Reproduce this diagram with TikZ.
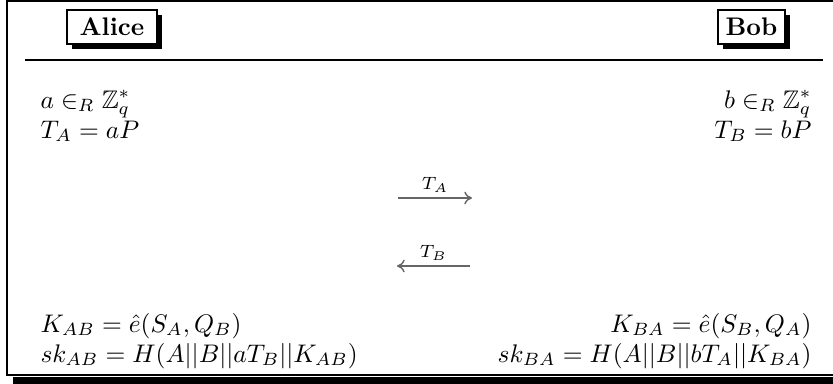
\documentclass[tikz,border=0pt]{standalone}
\usepackage{amsmath,amssymb}
\usetikzlibrary{shadows,arrows.meta}
\begin{document}
\begin{tikzpicture}[x=0.393pt,y=-0.393pt,
  party/.style={draw, fill=white, line width=0.5pt, inner sep=0pt, font=\bfseries,
    drop shadow={shadow xshift=2pt, shadow yshift=-2pt, fill=black, opacity=1}},
  txt/.style={inner sep=0pt},
  msg/.style={black!60, line width=0.55pt, -{To[length=3pt,width=5pt]}},
  msglabel/.style={black, inner sep=2pt, above}]
\useasboundingbox (0,0) rectangle (833,383);
\clip (0,0) rectangle (833,383);
% frame with shadow
\fill[black] (13,377) rectangle (850,395);
\draw[line width=0.45pt] (850,1) -- (7,1) -- (7,375) -- (850,375);
% parties
\node[party, minimum width=35.4pt, minimum height=13.4pt] (alice) at (112,27) {Alice};
\node[party, minimum width=26.3pt, minimum height=13.4pt] (bob) at (751.5,27) {Bob};
% rule
\coordinate (r1) at (25,60);
\coordinate (r2) at (823,60);
\draw[line width=0.45pt] (r1) -- (r2);
% Alice side
\node[txt, anchor=base west] (a1) at (40,108) {$a \in_R \mathbb{Z}_q^*$};
\node[txt, anchor=base west] (a2) at (40,138) {$T_A = aP$};
\node[txt, anchor=base west] (a3) at (40,332) {$K_{AB} = \hat{e}(S_A, Q_B)$};
\node[txt, anchor=base west] (a4) at (40,362) {$sk_{AB} = H(A||B||aT_B||K_{AB})$};
% Bob side
\node[txt, anchor=base east] (b1) at (812,108) {$b \in_R \mathbb{Z}_q^*$};
\node[txt, anchor=base east] (b2) at (812,138) {$T_B = bP$};
\node[txt, anchor=base east] (b3) at (812,332) {$K_{BA} = \hat{e}(S_B, Q_A)$};
\node[txt, anchor=base east] (b4) at (812,362) {$sk_{BA} = H(A||B||bT_A||K_{BA})$};
% messages
\coordinate (m1s) at (398,198);
\coordinate (m1e) at (472,198);
\draw[msg] (m1s) -- node[msglabel] {$\scriptstyle T_A$} (m1e);
\coordinate (m2s) at (470,266);
\coordinate (m2e) at (397,266);
\draw[msg] (m2s) -- node[msglabel] {$\scriptstyle T_B$} (m2e);
\end{tikzpicture}
\end{document}
